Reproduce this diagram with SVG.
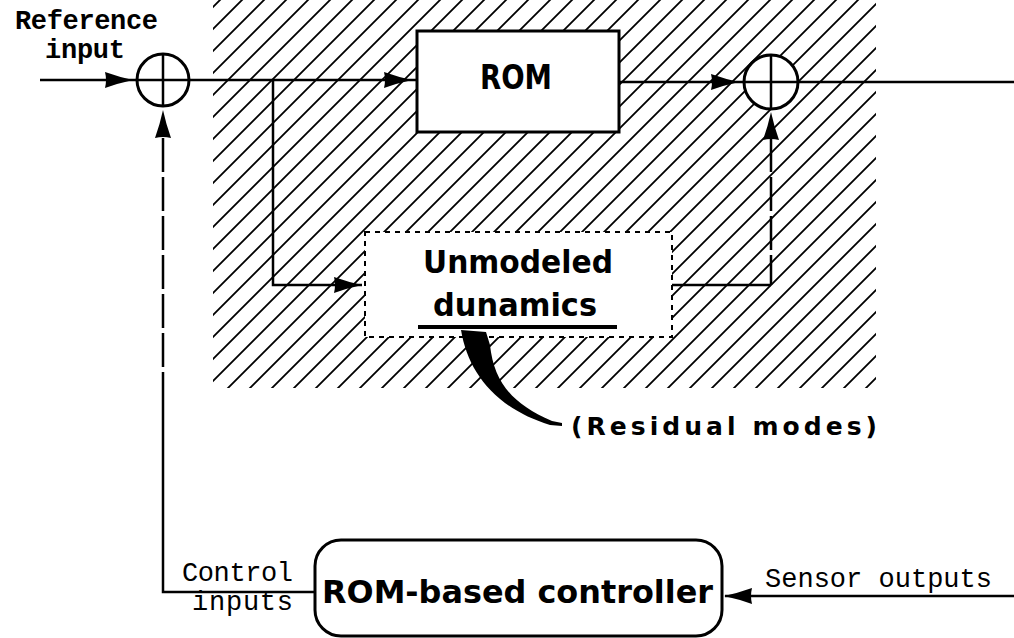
<svg xmlns="http://www.w3.org/2000/svg" width="1014" height="638" viewBox="0 0 1014 638">
<style>
.ln{stroke:#000;stroke-width:2.5;fill:none}
.dl{stroke:#000;stroke-width:2.5;fill:none;stroke-dasharray:34 5}
.box{stroke:#000;stroke-width:3;fill:#fff}
.sans{font-family:"DejaVu Sans","Liberation Sans",Arial,sans-serif;font-weight:bold;fill:#000}
.mono{font-family:"Liberation Mono","DejaVu Sans Mono","Courier New",monospace;fill:#000}
</style>
<defs>
<pattern id="hatch" patternUnits="userSpaceOnUse" width="22" height="22">
<path d="M-2,24 L24,-2 M-4,4 L4,-4 M18,26 L26,18" stroke="#000" stroke-width="1.8" fill="none"/>
</pattern>
<path id="ah" d="M0,0 Q-14,-3 -28,-8 Q-26,0 -28,8 Q-14,3 0,0 Z" fill="#000"/>
</defs>
<rect width="1014" height="638" fill="#fff"/>
<g id="hatched-region">
<rect x="213" y="0" width="663" height="388" fill="url(#hatch)"/>
</g>
<g id="connectors">
<path class="ln" d="M40,80 L417,80"/>
<path class="ln" d="M619,82 L1014,82"/>
<path class="ln" d="M273,80 L273,285 L362,285"/>
<path class="dl" d="M771,138 L771,285"/>
<path class="ln" d="M771,285 L672,285"/>
<path class="dl" d="M163,138 L163,400"/>
<path class="ln" d="M163,400 L163,592 L315,592"/>
<path class="ln" d="M1014,596 L725,596"/>
<use href="#ah" transform="translate(133,80)"/>
<use href="#ah" transform="translate(412,80)"/>
<use href="#ah" transform="translate(739,82)"/>
<use href="#ah" transform="translate(163,110) rotate(-90)"/>
<use href="#ah" transform="translate(771,112) rotate(-90)"/>
<use href="#ah" transform="translate(362,285)"/>
<use href="#ah" transform="translate(724,596) rotate(180)"/>
</g>
<g id="sum1">
<circle cx="163" cy="80" r="26" class="box"/>
<path class="ln" d="M137,80 L189,80 M163,54 L163,106"/>
</g>
<g id="rom">
<rect x="417" y="31" width="202" height="101" class="box"/>
<text x="480" y="89" class="sans" font-size="33" textLength="72" lengthAdjust="spacingAndGlyphs">ROM</text>
</g>
<g id="sum2">
<circle cx="771" cy="82" r="27" class="box"/>
<path class="ln" d="M744,82 L798,82 M771,55 L771,109"/>
</g>
<g id="unmodeled">
<rect x="365" y="232" width="307" height="105" fill="#fff" stroke="#000" stroke-width="2" stroke-dasharray="5 5"/>
<text x="423" y="273" class="sans" font-size="32" textLength="190" lengthAdjust="spacingAndGlyphs">Unmodeled</text>
<text x="433" y="316" class="sans" font-size="32" textLength="164" lengthAdjust="spacingAndGlyphs">dunamics</text>
<rect x="418" y="325" width="199" height="4" fill="#000"/>
</g>
<g id="residual">
<path d="M461,330 C468,372 495,408 550,425 L562,426 L562,423 L552,421 C512,404 494,382 490,345 L486,332 Z" fill="#000"/>
<text x="571" y="435" class="sans" font-size="25" textLength="306">(Residual  modes)</text>
</g>
<g id="controller">
<rect x="315" y="540" width="407" height="96" rx="26" ry="26" class="box"/>
<text x="322" y="603" class="sans" font-size="32" textLength="391" lengthAdjust="spacingAndGlyphs">ROM-based controller</text>
</g>
<g id="labels">
<text x="15" y="29" class="mono" font-size="27" font-weight="bold" textLength="143">Reference</text>
<text x="45" y="58" class="mono" font-size="27" font-weight="bold" textLength="80">input</text>
<text x="182" y="581" class="mono" font-size="27" textLength="111">Control</text>
<text x="192" y="610" class="mono" font-size="27" textLength="101">inputs</text>
<text x="765" y="587" class="mono" font-size="27" textLength="227">Sensor outputs</text>
</g>
</svg>
